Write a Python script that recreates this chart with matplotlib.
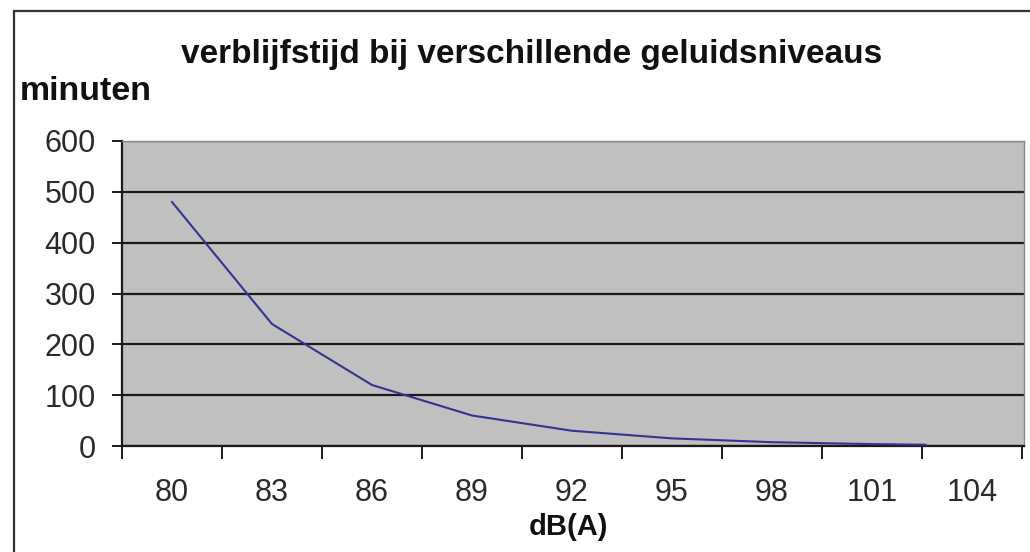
import matplotlib.pyplot as plt
from matplotlib.patches import Rectangle

# verblijfstijd (minuten) per geluidsniveau
niveau_db = [80, 83, 86, 89, 92, 95, 98, 101, 102.6]
minuten = [480, 240, 120, 60, 30, 15, 7.5, 3.75, 2.5]
x_labels = [80, 83, 86, 89, 92, 95, 98, 101, 104]
y_ticks = [0, 100, 200, 300, 400, 500, 600]

plt.rcParams['font.family'] = ['Liberation Sans', 'DejaVu Sans']

fig = plt.figure(figsize=(10.3, 5.52), dpi=100)
ax = fig.add_axes([122 / 1030, 1 - 446 / 552, 902 / 1030, 305 / 552])

ax.set_facecolor('#c0c0c0')
ax.plot(niveau_db, minuten, color='#34348f', lw=1.5, zorder=3)

ax.set_xlim(78.5, 105.56)
ax.set_ylim(0, 600)

# horizontale rasterlijnen
ax.set_yticks(y_ticks)
ax.grid(axis='y', color='#1a1a1a', lw=1.6, zorder=1)
ax.set_axisbelow(True)

# labels in het midden van de categorieën, streepjes ertussen
ax.set_xticks(x_labels)
ax.set_xticks([78.5 + 3 * i for i in range(10)], minor=True)
ax.tick_params(axis='x', which='major', length=0, pad=23, labelsize=22, labelcolor='#2a2a2a')
ax.tick_params(axis='x', which='minor', length=9, width=1.4, direction='out', color='#1a1a1a')
ax.tick_params(axis='y', length=7, width=1.4, direction='out', pad=12, labelsize=22,
               labelcolor='#2a2a2a', color='#1a1a1a')

for side in ['top', 'right']:
    ax.spines[side].set_color('#888888')
    ax.spines[side].set_linewidth(1.0)
for side in ['left', 'bottom']:
    ax.spines[side].set_color('#1a1a1a')
    ax.spines[side].set_linewidth(1.6)

fig.text(532 / 1030, 1 - 55 / 552, 'verblijfstijd bij verschillende geluidsniveaus',
         ha='center', va='center', fontsize=24, fontweight='bold', color='#111111')
fig.text(20 / 1030, 1 - 91 / 552, 'minuten', ha='left', va='center',
         fontsize=24.5, fontweight='bold', color='#111111')
fig.text(568 / 1030, 1 - 527 / 552, 'dB(A)', ha='center', va='center',
         fontsize=21, fontweight='bold', color='#111111')

# kader rond de grafiek
fig.patches.append(Rectangle((14 / 1030, -0.05), 1.0, 1 - 11 / 552 + 0.05,
                             transform=fig.transFigure, fill=False,
                             edgecolor='#333333', lw=1.6))

fig.savefig('out.png', dpi=100)
